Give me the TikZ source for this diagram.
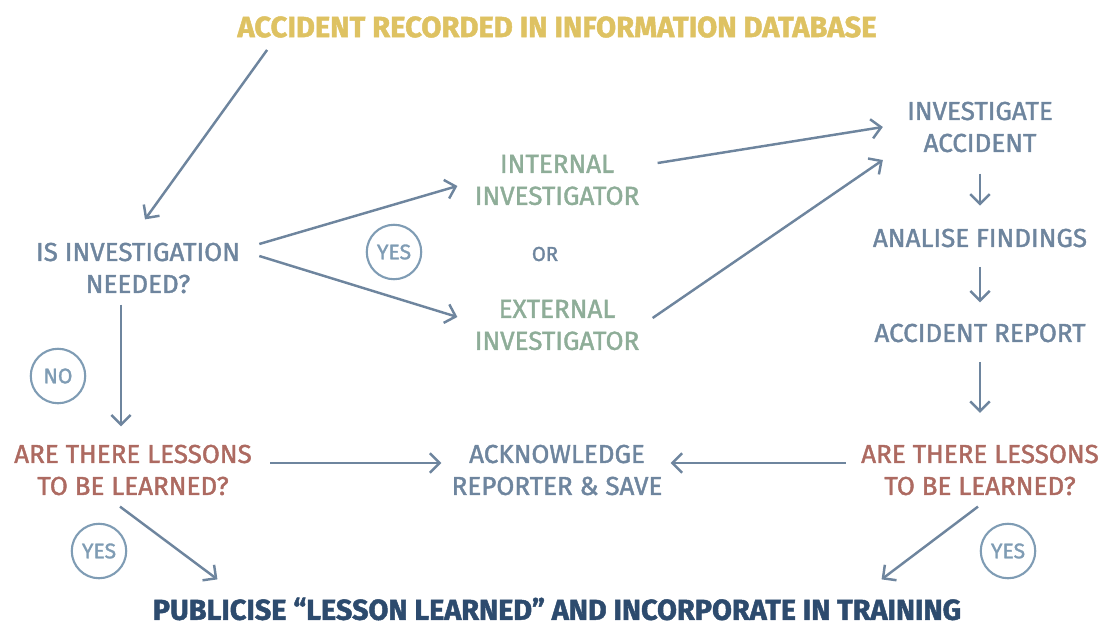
\documentclass[tikz,border=0pt]{standalone}
\usepackage{fontspec}
\setmainfont{Fira Sans}[FakeBold=1.6]
\usepackage{tikz}
\usetikzlibrary{arrows.meta}

\definecolor{slate}{HTML}{6E859E}
\definecolor{sage}{HTML}{8EAD98}
\definecolor{gold}{HTML}{DEC262}
\definecolor{rust}{HTML}{AD6A61}
\definecolor{navy}{HTML}{2D4B6E}
\definecolor{ringblue}{HTML}{7F9CB4}

\tikzset{
    flow/.style={draw=slate, line width=1.4pt, -{Straight Barb[length=5.5pt,width=11pt,line width=1.4pt]}},
    step txt/.style={inner sep=0pt, align=center, text=slate, font=\fontsize{14.8}{18.2}\selectfont},
    ans/.style={circle, draw=ringblue, line width=1.2pt, minimum size=31pt, inner sep=0pt, text=ringblue, font=\fontsize{12}{12}\selectfont}
}

\begin{document}
\begin{tikzpicture}[x=0.02cm, y=-0.02cm]
    \useasboundingbox (0,0) rectangle (1105,626);

    % boxes of the flow
    \node[step txt, text=gold, font=\fontsize{16.6}{18}\bfseries] (recorded) at (557,27) {ACCIDENT RECORDED IN INFORMATION DATABASE};
    \node[step txt] (needed) at (138,268) {IS INVESTIGATION\\NEEDED?};
    \node[step txt, text=sage] (internal) at (557,180) {INTERNAL\\INVESTIGATOR};
    \node[step txt, font=\fontsize{11.5}{12}\selectfont] (or) at (545,254) {OR};
    \node[step txt, text=sage] (external) at (557,325) {EXTERNAL\\INVESTIGATOR};
    \node[step txt] (investigate) at (980,127) {INVESTIGATE\\ACCIDENT};
    \node[step txt] (analise) at (980,238) {ANALISE FINDINGS};
    \node[step txt] (report) at (980,333) {ACCIDENT REPORT};
    \node[step txt, text=rust] (lessonsL) at (133,470) {ARE THERE LESSONS\\TO BE LEARNED?};
    \node[step txt, text=rust] (lessonsR) at (980,470) {ARE THERE LESSONS\\TO BE LEARNED?};
    \node[step txt] (acknowledge) at (557,470) {ACKNOWLEDGE\\REPORTER \& SAVE};
    \node[step txt, text=navy, font=\fontsize{16.4}{18}\bfseries] (publicise) at (557,609) {PUBLICISE “LESSON LEARNED” AND INCORPORATE IN TRAINING};

    % answers
    \node[ans] (yesA) at (394,252) {YES};
    \node[ans] (noA) at (58,376) {NO};
    \node[ans] (yesB) at (99,551) {YES};
    \node[ans] (yesC) at (1008,551) {YES};

    % connectors
    \draw[flow] ([shift={(30,12)}]recorded.south west) -- ([shift={(7,-23)}]needed.north);
    \draw[flow] ([shift={(19,-24)}]needed.east) -- ([shift={(-17,6)}]internal.west);
    \draw[flow] ([shift={(19,-12)}]needed.east) -- ([shift={(-17,-8)}]external.west);
    \draw[flow] ([shift={(18,-17)}]internal.east) -- ([shift={(-24,0)}]investigate.west);
    \draw[flow] ([shift={(13,-7)}]external.east) -- ([shift={(-24,33)}]investigate.west);
    \draw[flow] ([shift={(-17,11)}]needed.south) -- ([shift={(-12,-18)}]lessonsL.north);
    \draw[flow] ([yshift=-12]investigate.south) -- ([yshift=13]analise.north);
    \draw[flow] ([yshift=-11]analise.south) -- ([yshift=12]report.north);
    \draw[flow] ([yshift=-11]report.south) -- ([yshift=18]lessonsR.north);
    \draw[flow] ([shift={(18,-7)}]lessonsL.east) -- ([shift={(-10,-7)}]acknowledge.west);
    \draw[flow] ([shift={(-15,-7)}]lessonsR.west) -- ([shift={(8,-7)}]acknowledge.east);
    \draw[flow] ([shift={(-13,11)}]lessonsL.south) -- ([shift={(65,-18)}]publicise.north west);
    \draw[flow] ([shift={(-2,11)}]lessonsR.south) -- ([shift={(-80,-18)}]publicise.north east);

\end{tikzpicture}
\end{document}
